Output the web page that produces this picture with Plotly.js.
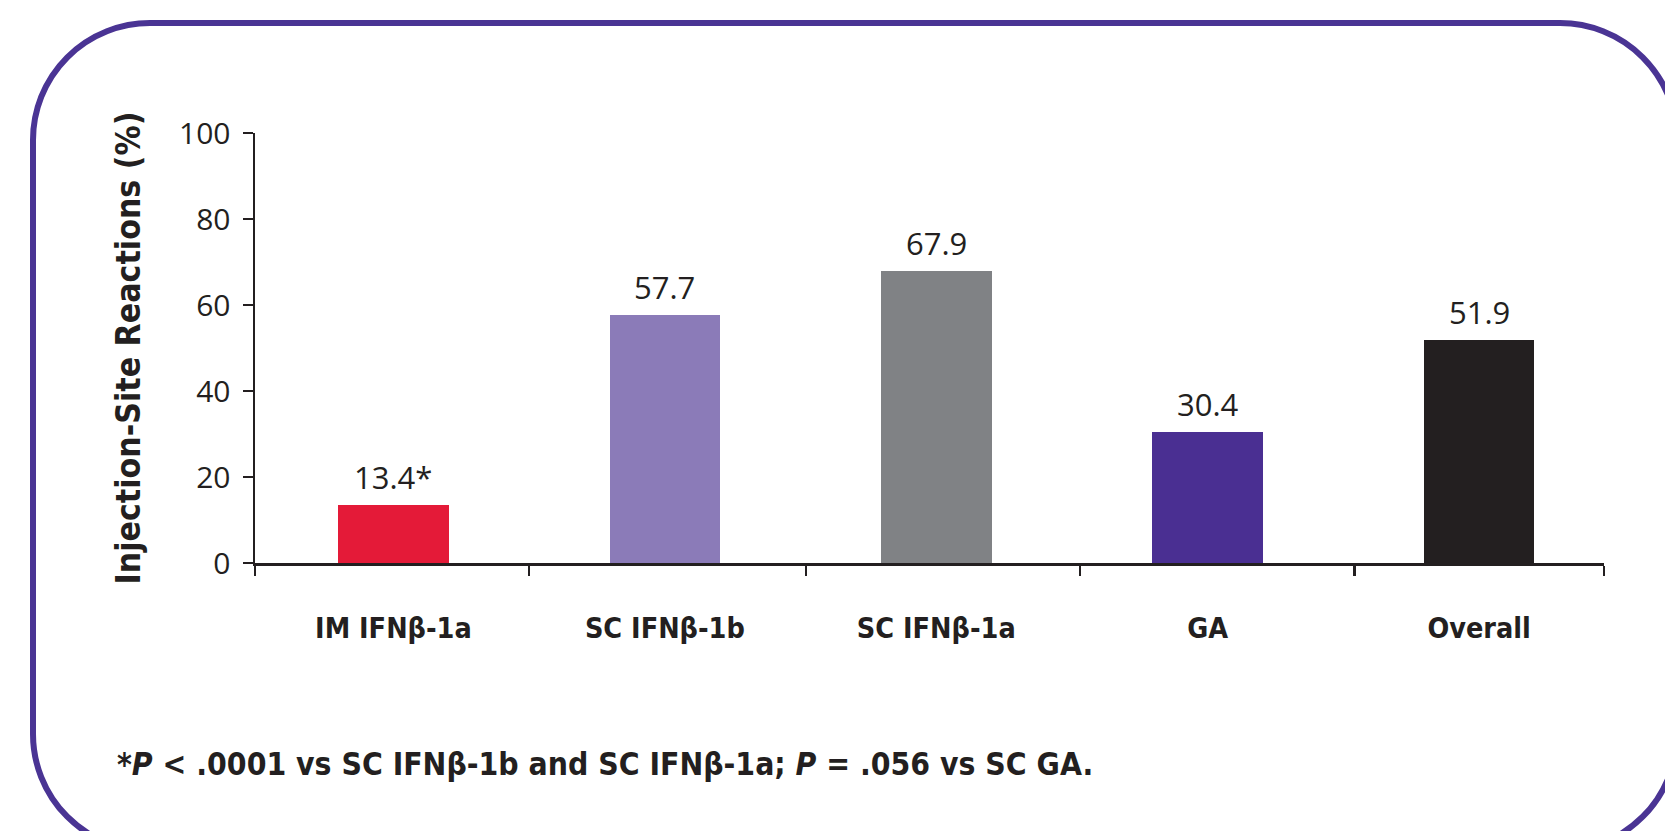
<!DOCTYPE html>
<html>
<head>
<meta charset="utf-8">
<script src="https://cdn.plot.ly/plotly-3.0.1.min.js"></script>
<style>
  html, body { margin: 0; padding: 0; background: #ffffff; }
  #wrap { position: relative; width: 1665px; height: 831px; overflow: hidden; background: #ffffff; }
  #frame { position: absolute; left: 30px; top: 20px; width: 1650px; height: 834px;
           box-sizing: border-box; border: 6px solid #4A3494; border-radius: 120px; z-index: 0; }
  #chart { position: absolute; left: 0; top: 0; width: 1665px; height: 831px; z-index: 1; }
</style>
</head>
<body>
<div id="wrap">
  <div id="frame"></div>
  <div id="chart"></div>
</div>
<script>
// ---- data ----
const categories = ['IM IFN\u03b2-1a', 'SC IFN\u03b2-1b', 'SC IFN\u03b2-1a', 'GA', 'Overall'];
const values = [13.4, 57.7, 67.9, 30.4, 51.9];
const labelMarks = ['*', '', '', '', ''];
const barColors = ['#E41A38', '#8B7BB8', '#808285', '#4A2F92', '#231F20'];
const yTickVals = [0, 20, 40, 60, 80, 100];
const yTitle = 'Injection-Site Reactions (%)';
const footnote = '*<i>P</i> < .0001 vs SC IFN\u03b2-1b and SC IFN\u03b2-1a; <i>P</i> = .056 vs SC GA.';

const positions = categories.map((c, i) => i);
const ink = '#231F20';
const boldFont = '"DejaVu Sans Condensed", "DejaVu Sans", sans-serif';
const numFont = '"Open Sans", "Noto Sans", sans-serif';

const bar = {
  type: 'bar',
  x: positions,
  y: values,
  width: 0.407,
  marker: { color: barColors, line: { width: 0 } },
  hoverinfo: 'skip',
  showlegend: false
};

const annotations = values.map((v, i) => ({
  x: positions[i], y: v, xref: 'x', yref: 'y',
  text: v.toFixed(1) + labelMarks[i],
  showarrow: false, yanchor: 'bottom', xanchor: 'center', yshift: 5,
  font: { family: numFont, size: 31, color: ink }
}));

annotations.push({
  xref: 'paper', yref: 'paper', x: -0.1037, y: -0.468,
  xanchor: 'left', yanchor: 'middle', showarrow: false,
  text: '<b>' + footnote + '</b>',
  font: { family: boldFont, size: 31.6, color: ink }
});

const layout = {
  width: 1665, height: 831,
  paper_bgcolor: 'rgba(0,0,0,0)',
  plot_bgcolor: 'rgba(0,0,0,0)',
  margin: { l: 255, r: 61, t: 133, b: 268, pad: 0 },
  bargap: 0,
  xaxis: {
    type: 'linear',
    range: [-0.51, 4.46],
    tickmode: 'array',
    tickvals: positions,
    ticktext: categories.map(c => '<b>' + c + '</b>'),
    ticks: '',
    ticklabelstandoff: 38,
    tickfont: { family: boldFont, size: 28.5, color: ink },
    showline: true, linecolor: ink, linewidth: 2.5,
    showgrid: false, zeroline: false,
    minor: {
      tickmode: 'array',
      tickvals: [-0.51, 0.5, 1.52, 2.53, 3.54, 4.46],
      ticks: 'outside', ticklen: 10, tickwidth: 2.5, tickcolor: ink,
      showgrid: false
    },
    fixedrange: true
  },
  yaxis: {
    range: [0, 100],
    tickmode: 'array',
    tickvals: yTickVals,
    ticks: 'outside', ticklen: 10, tickwidth: 2.5, tickcolor: ink,
    ticklabelstandoff: 6,
    tickfont: { family: numFont, size: 30, color: ink },
    showline: true, linecolor: ink, linewidth: 2.5,
    showgrid: false, zeroline: false,
    title: { text: '<b>' + yTitle + '</b>', font: { family: boldFont, size: 33.5, color: ink }, standoff: 29 },
    fixedrange: true
  },
  annotations: annotations,
  showlegend: false
};

Plotly.newPlot('chart', [bar], layout, { staticPlot: true, displayModeBar: false });
</script>
</body>
</html>
